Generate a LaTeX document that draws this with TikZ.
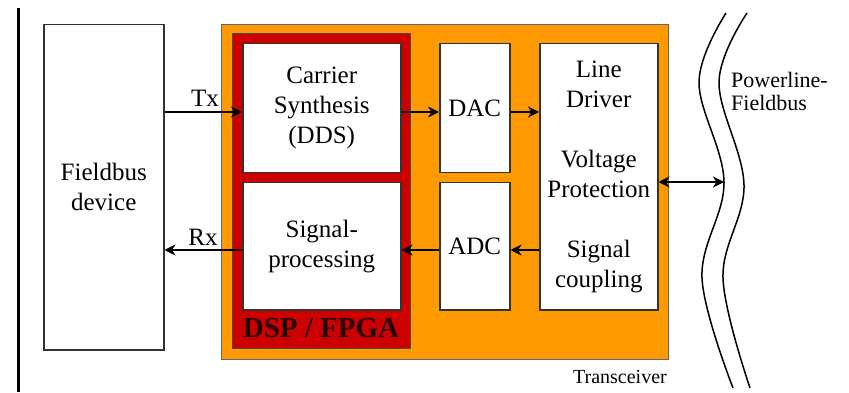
\documentclass[tikz,border=0pt]{standalone}
\usepackage{fontspec}
\setmainfont{Liberation Serif}
\usetikzlibrary{arrows.meta}
\definecolor{orng}{RGB}{255,153,0}
\definecolor{dred}{RGB}{204,0,0}
\begin{document}
\begin{tikzpicture}[x=1pt,y=-1pt,
  blk/.style={draw=black!80,line width=1.5pt,fill=white,inner sep=0pt,anchor=north west,align=center,font=\fontsize{25}{30}\selectfont},
  conn/.style={line width=1.8pt,-{Stealth[length=11pt,width=11pt,inset=3.5pt]}},
  lbl/.style={font=\fontsize{25}{30}\selectfont,inner sep=0pt},
]
\useasboundingbox (0,0) rectangle (849,393);
\fill[white] (0,0) rectangle (849,393);
\draw[line width=3pt] (18,8) -- (18,392);

\node[blk,minimum width=120pt,minimum height=325pt] (fd) at (43,24) {Fieldbus\\device};
\node[blk,fill=orng,draw=black!60,line width=1.2pt,minimum width=447pt,minimum height=335pt] (tr) at (221,24) {};
\node[blk,fill=dred,draw=black!70,line width=1pt,minimum width=178pt,minimum height=315pt] (dsp) at (232,33) {};
\node[blk,minimum width=158pt,minimum height=129pt] (cs) at (242,43) {Carrier\\Synthesis\\(DDS)};
\node[blk,minimum width=158pt,minimum height=127pt] (sp) at (242,182) {Signal-\\processing};
\node[blk,minimum width=70pt,minimum height=129pt] (dac) at (439,43) {DAC};
\node[blk,minimum width=70pt,minimum height=127pt] (adc) at (439,182) {ADC};
\node[blk,minimum width=118pt,minimum height=266pt] (ld) at (539,43) {Line\\Driver\\[30pt]Voltage\\Protection\\[30pt]Signal\\coupling};

\node[font=\fontsize{29}{32}\selectfont\bfseries,inner sep=0pt,text=black!85!red] (dspl) at (321,328) {DSP / FPGA};
\node[lbl] (tx) at (205,98) {Tx};
\node[lbl] (rx) at (203,237) {Rx};
\node[font=\fontsize{20}{23}\selectfont,inner sep=0pt,anchor=east] (trl) at (667,377) {Transceiver};
\node[font=\fontsize{22}{23}\selectfont,inner sep=0pt,anchor=north west,align=left] (pf) at (731,72) {Powerline-\\Fieldbus};

% wavy powerline
\draw[line width=1.5pt] plot[smooth,tension=0.6] coordinates {(726,13) (699,82) (724,182) (702,278) (733,388)};
\draw[line width=1.5pt] plot[smooth,tension=0.6] coordinates {(747,13) (719,82) (744,185) (723,278) (750,388)};
\coordinate (bus) at (724,182);

\draw[conn] (fd.east |- 0,112) -- (cs.west |- 0,112);
\draw[conn] (sp.west |- 0,250) -- (fd.east |- 0,250);
\draw[conn] (cs.east |- 0,112) -- (dac.west |- 0,112);
\draw[conn] (dac.east |- 0,112) -- (ld.west |- 0,112);
\draw[conn] (ld.west |- 0,250) -- (adc.east |- 0,250);
\draw[conn] (adc.west |- 0,250) -- (sp.east |- 0,250);
\draw[line width=1.8pt,{Stealth[length=11pt,width=11pt,inset=3.5pt]}-{Stealth[length=11pt,width=11pt,inset=3.5pt]}] (ld.east |- bus) -- (bus);
\end{tikzpicture}
\end{document}
